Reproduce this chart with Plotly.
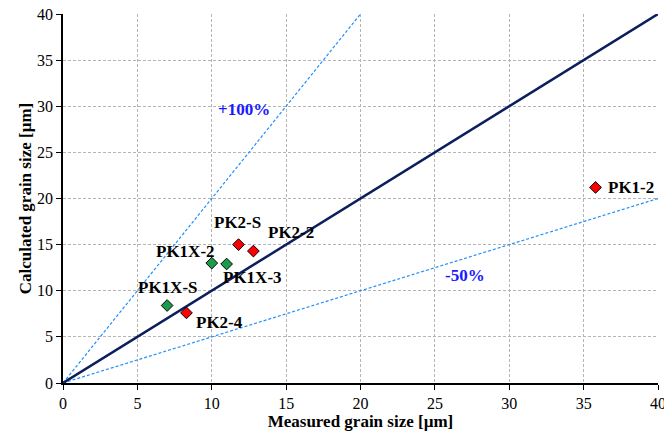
import plotly.graph_objects as go

samples = ["PK1-2", "PK2-S", "PK2-2", "PK2-4", "PK1X-2", "PK1X-3", "PK1X-S"]
measured = [35.8, 11.8, 12.8, 8.3, 10.0, 11.0, 7.0]
calculated = [21.2, 15.0, 14.3, 7.6, 13.0, 12.9, 8.4]
groups = ["PK", "PK", "PK", "PK", "PK1X", "PK1X", "PK1X"]

ticks = [0, 5, 10, 15, 20, 25, 30, 35, 40]
axis_max = 40

FONT = "Times New Roman, Liberation Serif, Tinos, serif"

fig = go.Figure()

# reference lines
fig.add_trace(go.Scatter(x=[0, axis_max / 2], y=[0, axis_max], mode="lines",
                         line=dict(color="#1f8fff", width=1.2, dash="3px,2px"), showlegend=False, hoverinfo="skip"))
fig.add_trace(go.Scatter(x=[0, axis_max], y=[0, axis_max / 2], mode="lines",
                         line=dict(color="#1f8fff", width=1.2, dash="3px,2px"), showlegend=False, hoverinfo="skip"))
fig.add_trace(go.Scatter(x=[0, axis_max], y=[0, axis_max], mode="lines",
                         line=dict(color="#0a1f5c", width=2.5), showlegend=False, hoverinfo="skip"))

colors = {"PK": "#ff0000", "PK1X": "#1a9c4a"}
for g in ["PK", "PK1X"]:
    xs = [m for m, gg in zip(measured, groups) if gg == g]
    ys = [c for c, gg in zip(calculated, groups) if gg == g]
    fig.add_trace(go.Scatter(x=xs, y=ys, mode="markers",
                             marker=dict(symbol="diamond", size=9, color=colors[g],
                                         line=dict(color="black", width=1)),
                             showlegend=False))

# label pixel offsets (dx, dy downward) and horizontal anchor
offsets = {
    "PK1-2": (10, 0, "left"),
    "PK2-S": (-1, -22, "center"),
    "PK2-2": (13, -19, "left"),
    "PK2-4": (8, 10, "left"),
    "PK1X-2": (5, -12, "right"),
    "PK1X-3": (-6, 13, "left"),
    "PK1X-S": (1, -18, "center"),
}
for s, mx, cy in zip(samples, measured, calculated):
    dx, dy, xa = offsets[s]
    fig.add_annotation(x=mx, y=cy, text="<b>%s</b>" % s, showarrow=False,
                       xshift=dx, yshift=-dy, xanchor=xa, yanchor="middle",
                       font=dict(family=FONT, size=17, color="black"))

fig.add_annotation(x=12.2, y=29.6, text="<b>+100%</b>", showarrow=False,
                   font=dict(family=FONT, size=17, color="#1a1aff"))
fig.add_annotation(x=27, y=11.6, text="<b>-50%</b>", showarrow=False,
                   font=dict(family=FONT, size=17, color="#1a1aff"))

axis_common = dict(range=[0, axis_max], tickvals=ticks, showgrid=True,
                   gridcolor="#b4b4b4", griddash="3px,2px", gridwidth=1,
                   showline=True, linecolor="black", linewidth=1.5,
                   ticks="outside", ticklen=5, tickcolor="black",
                   ticklabeloverflow="allow", automargin=False,
                   zeroline=False, tickfont=dict(family=FONT, size=16, color="black"))

fig.update_xaxes(**axis_common,
                 title=dict(text="<b>Measured grain size [µm]</b>", standoff=0,
                            font=dict(family=FONT, size=17, color="black")))
fig.update_yaxes(**axis_common,
                 title=dict(text="<b>Calculated grain size [µm]</b>", standoff=1,
                            font=dict(family=FONT, size=17, color="black")))

fig.update_layout(width=664, height=432, margin=dict(l=63, r=6, t=14, b=49),
                  plot_bgcolor="white", paper_bgcolor="white",
                  font=dict(family=FONT))

fig.write_html("out.html", config={"displayModeBar": False},
               post_script="document.body.style.margin='0';document.body.style.padding='0';")
